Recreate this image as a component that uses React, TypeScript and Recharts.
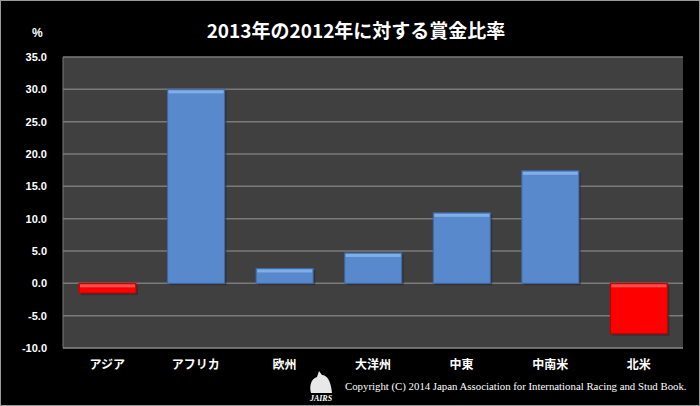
import React from "react";
import {
  Bar,
  BarChart,
  CartesianGrid,
  Cell,
  XAxis,
  YAxis,
} from "recharts";

const regions = ["アジア", "アフリカ", "欧州", "大洋州", "中東", "中南米", "北米"];
const ratios = [-1.5, 30.0, 2.3, 4.7, 10.9, 17.4, -7.8];
const yTicks = [-10, -5, 0, 5, 10, 15, 20, 25, 30, 35];

const data = regions.map((name, i) => ({ name, value: ratios[i] }));

// bar with a light bevel on its top edge
const BevelBar = (props: any) => {
  const { x, y, width, height, value } = props;
  const top = Math.min(y, y + height);
  const h = Math.abs(height);
  const neg = value < 0;
  const main = neg ? "#ff0000" : "#5889cc";
  const edge = neg ? "#c00000" : "#3e6aa6";
  const light = neg ? "#ff5050" : "#80aee6";
  return (
    <g>
      <rect x={x + 2} y={top + 2} width={width} height={h} fill="#2a2a2a" opacity={0.6} />
      <rect x={x} y={top} width={width} height={h} fill={main} stroke={edge} strokeWidth={1} />
      <rect x={x + 1} y={top + 1} width={width - 2} height={Math.min(3, h - 1)} fill={light} />
    </g>
  );
};

export default function App() {
  return (
    <div
      style={{
        position: "absolute",
        left: 0,
        top: 0,
        width: 700,
        height: 406,
        background: "#000",
        boxSizing: "border-box",
        border: "1px solid #9a9a9a",
      }}
    >
      <BarChart
        width={698}
        height={404}
        data={data}
        margin={{ top: 56, right: 16, bottom: 27, left: -1 }}
      >
        <CartesianGrid
          vertical={false}
          stroke="#7a7a7a"
          strokeWidth={1.5}
          fill="#404040"
        />
        <XAxis
          dataKey="name"
          height={30}
          tickLine={false}
          axisLine={{ stroke: "#7a7a7a" }}
          tick={{
            fill: "#fff",
            fontSize: 12,
            fontWeight: "bold",
            fontFamily: "Noto Sans CJK JP",
          }}
          tickMargin={6}
          interval={0}
        />
        <YAxis
          width={63}
          domain={[-10, 35]}
          ticks={yTicks}
          interval={0}
          tickLine={false}
          axisLine={{ stroke: "#7a7a7a" }}
          tickFormatter={(v) => v.toFixed(1)}
          tick={{
            fill: "#fff",
            fontSize: 11,
            fontWeight: "bold",
            fontFamily: "Liberation Sans",
          }}
          tickMargin={10}
        />
        <YAxis
          yAxisId="right"
          orientation="right"
          width={0}
          domain={[-10, 35]}
          tick={false}
          tickLine={false}
          axisLine={{ stroke: "#7a7a7a" }}
        />
        <Bar
          dataKey="value"
          barSize={57}
          shape={<BevelBar />}
          isAnimationActive={false}
        >
          {data.map((d, i) => (
            <Cell key={i} fill={d.value < 0 ? "#ff0000" : "#5889cc"} />
          ))}
        </Bar>
        <text
          x={355}
          y={37}
          textAnchor="middle"
          fill="#fff"
          fontSize={19}
          fontWeight="bold"
          fontFamily="Noto Sans CJK JP"
        >
          2013年の2012年に対する賞金比率
        </text>
        <text
          x={31}
          y={36}
          fill="#fff"
          fontSize={12}
          fontWeight="bold"
          fontFamily="Liberation Sans"
        >
          %
        </text>
        <g transform="translate(305,370)">
          <path
            d="M5 22 C3 15 5 8 11 6 L13 0 L16 4 C21 4 25 10 26 22 Z"
            fill="#e8e8e8"
          />
          <text
            x={15}
            y={30}
            textAnchor="middle"
            fill="#fff"
            fontSize={8}
            fontStyle="italic"
            fontWeight="bold"
            fontFamily="Liberation Serif"
          >
            JAIRS
          </text>
        </g>
        <text
          x={344}
          y={389}
          fill="#fff"
          fontSize={10.8}
          fontFamily="Liberation Serif"
        >
          Copyright (C) 2014 Japan Association for International Racing and Stud Book.
        </text>
      </BarChart>
    </div>
  );
}
